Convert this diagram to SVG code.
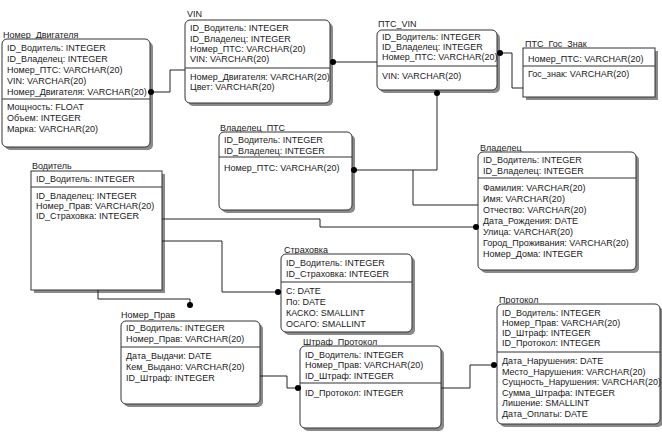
<svg xmlns="http://www.w3.org/2000/svg" width="662" height="433" viewBox="0 0 662 433">
<style>
text{font-family:"Liberation Sans",Arial,sans-serif;font-size:9px;fill:#1a1a1a}
.box{fill:#fff;stroke:#333;stroke-width:1}
.sh{fill:#8a8a8a}
.div{stroke:#333;stroke-width:1}
.ln{fill:none;stroke:#222;stroke-width:1}
.dot{fill:#000}
</style>
<rect width="662" height="433" fill="#fff"/>
<g id="Номер_Двигателя">
<text x="3" y="38">Номер_Двигателя</text>
<rect class="sh" x="5" y="42" width="148" height="108" rx="5"/>
<rect class="box" x="2" y="39" width="148" height="108" rx="5"/>
<line class="div" x1="2" y1="99" x2="150" y2="99"/>
<text x="7" y="51">ID_Водитель: INTEGER</text>
<text x="7" y="62">ID_Владелец: INTEGER</text>
<text x="7" y="73">Номер_ПТС: VARCHAR(20)</text>
<text x="7" y="84">VIN: VARCHAR(20)</text>
<text x="7" y="95">Номер_Двигателя: VARCHAR(20)</text>
<text x="7" y="110">Мощность: FLOAT</text>
<text x="7" y="121">Объем: INTEGER</text>
<text x="7" y="132">Марка: VARCHAR(20)</text>
</g>
<g id="VIN">
<text x="187" y="17">VIN</text>
<rect class="sh" x="188" y="23" width="145" height="83" rx="5"/>
<rect class="box" x="185" y="20" width="145" height="83" rx="5"/>
<line class="div" x1="185" y1="68" x2="330" y2="68"/>
<text x="190" y="31">ID_Водитель: INTEGER</text>
<text x="190" y="42">ID_Владелец: INTEGER</text>
<text x="190" y="52">Номер_ПТС: VARCHAR(20)</text>
<text x="190" y="62">VIN: VARCHAR(20)</text>
<text x="190" y="80">Номер_Двигателя: VARCHAR(20)</text>
<text x="190" y="90">Цвет: VARCHAR(20)</text>
</g>
<g id="ПТС_VIN">
<text x="378" y="27">ПТС_VIN</text>
<rect class="sh" x="380" y="33" width="120" height="60" rx="5"/>
<rect class="box" x="377" y="30" width="120" height="60" rx="5"/>
<line class="div" x1="377" y1="66" x2="497" y2="66"/>
<text x="382" y="40">ID_Водитель: INTEGER</text>
<text x="382" y="50">ID_Владелец: INTEGER</text>
<text x="382" y="60">Номер_ПТС: VARCHAR(20)</text>
<text x="382" y="79">VIN: VARCHAR(20)</text>
</g>
<g id="ПТС_Гос_Знак">
<text x="525" y="47">ПТС_Гос_Знак</text>
<rect class="sh" x="526" y="51" width="132" height="49"/>
<rect class="box" x="523" y="48" width="132" height="49"/>
<line class="div" x1="523" y1="66" x2="655" y2="66"/>
<text x="528" y="62">Номер_ПТС: VARCHAR(20)</text>
<text x="528" y="77">Гос_знак: VARCHAR(20)</text>
</g>
<g id="Владелец_ПТС">
<text x="220" y="131">Владелец_ПТС</text>
<rect class="sh" x="222" y="135" width="133" height="78" rx="5"/>
<rect class="box" x="219" y="132" width="133" height="78" rx="5"/>
<line class="div" x1="219" y1="157" x2="352" y2="157"/>
<text x="224" y="143">ID_Водитель: INTEGER</text>
<text x="224" y="154">ID_Владелец: INTEGER</text>
<text x="224" y="171">Номер_ПТС: VARCHAR(20)</text>
</g>
<g id="Владелец">
<text x="480" y="151">Владелец</text>
<rect class="sh" x="481" y="155" width="158" height="118" rx="5"/>
<rect class="box" x="478" y="152" width="158" height="118" rx="5"/>
<line class="div" x1="478" y1="178" x2="636" y2="178"/>
<text x="483" y="163">ID_Водитель: INTEGER</text>
<text x="483" y="174">ID_Владелец: INTEGER</text>
<text x="483" y="191">Фамилия: VARCHAR(20)</text>
<text x="483" y="202">Имя: VARCHAR(20)</text>
<text x="483" y="213">Отчество: VARCHAR(20)</text>
<text x="483" y="224">Дата_Рождения: DATE</text>
<text x="483" y="235">Улица: VARCHAR(20)</text>
<text x="483" y="246">Город_Проживания: VARCHAR(20)</text>
<text x="483" y="257">Номер_Дома: INTEGER</text>
</g>
<g id="Водитель">
<text x="32" y="169">Водитель</text>
<rect class="sh" x="34" y="174" width="131" height="119"/>
<rect class="box" x="31" y="171" width="131" height="119"/>
<line class="div" x1="31" y1="187" x2="162" y2="187"/>
<text x="36" y="182">ID_Водитель: INTEGER</text>
<text x="36" y="199">ID_Владелец: INTEGER</text>
<text x="36" y="209">Номер_Прав: VARCHAR(20)</text>
<text x="36" y="219">ID_Страховка: INTEGER</text>
</g>
<g id="Страховка">
<text x="284" y="253">Страховка</text>
<rect class="sh" x="284" y="257" width="131" height="78" rx="5"/>
<rect class="box" x="281" y="254" width="131" height="78" rx="5"/>
<line class="div" x1="281" y1="282" x2="412" y2="282"/>
<text x="286" y="266">ID_Водитель: INTEGER</text>
<text x="286" y="277">ID_Страховка: INTEGER</text>
<text x="286" y="294">С: DATE</text>
<text x="286" y="305">По: DATE</text>
<text x="286" y="316">КАСКО: SMALLINT</text>
<text x="286" y="327">ОСАГО: SMALLINT</text>
</g>
<g id="Номер_Прав">
<text x="121" y="318">Номер_Прав</text>
<rect class="sh" x="124" y="324" width="139" height="83" rx="5"/>
<rect class="box" x="121" y="321" width="139" height="83" rx="5"/>
<line class="div" x1="121" y1="347" x2="260" y2="347"/>
<text x="126" y="331">ID_Водитель: INTEGER</text>
<text x="126" y="342">Номер_Прав: VARCHAR(20)</text>
<text x="126" y="359">Дата_Выдачи: DATE</text>
<text x="126" y="370">Кем_Выдано: VARCHAR(20)</text>
<text x="126" y="381">ID_Штраф: INTEGER</text>
</g>
<g id="Штраф_Протокол">
<text x="303" y="345">Штраф_Протокол</text>
<rect class="sh" x="303" y="349" width="141" height="82" rx="5"/>
<rect class="box" x="300" y="346" width="141" height="82" rx="5"/>
<line class="div" x1="300" y1="383" x2="441" y2="383"/>
<text x="305" y="358">ID_Водитель: INTEGER</text>
<text x="305" y="368">Номер_Прав: VARCHAR(20)</text>
<text x="305" y="379">ID_Штраф: INTEGER</text>
<text x="305" y="396">ID_Протокол: INTEGER</text>
</g>
<g id="Протокол">
<text x="499" y="303">Протокол</text>
<rect class="sh" x="500" y="307" width="163" height="120" rx="5"/>
<rect class="box" x="497" y="304" width="163" height="120" rx="5"/>
<line class="div" x1="497" y1="352" x2="660" y2="352"/>
<text x="502" y="316">ID_Водитель: INTEGER</text>
<text x="502" y="326">Номер_Прав: VARCHAR(20)</text>
<text x="502" y="336">ID_Штраф: INTEGER</text>
<text x="502" y="346">ID_Протокол: INTEGER</text>
<text x="502" y="364">Дата_Нарушения: DATE</text>
<text x="502" y="375">Место_Нарушения: VARCHAR(20)</text>
<text x="502" y="385">Сущность_Нарушения: VARCHAR(20)</text>
<text x="502" y="396">Сумма_Штрафа: INTEGER</text>
<text x="502" y="406">Лишение: SMALLINT</text>
<text x="502" y="417">Дата_Оплаты: DATE</text>
</g>
<g id="connectors">
<path class="ln" d="M150,92 H170 V70 H185"/>
<circle class="dot" cx="151" cy="92" r="3"/>
<path class="ln" d="M331,62 H377"/>
<circle class="dot" cx="333" cy="62" r="3"/>
<path class="ln" d="M498,53 H512 V88 H523"/>
<circle class="dot" cx="500" cy="53" r="3"/>
<path class="ln" d="M437,92 V170 H352"/>
<circle class="dot" cx="437" cy="93" r="3"/>
<path class="ln" d="M413,170 V205 H478"/>
<circle class="dot" cx="354" cy="170" r="3"/>
<path class="ln" d="M162,219 H320 V227 H478"/>
<circle class="dot" cx="476" cy="227" r="3"/>
<path class="ln" d="M162,241 H222 V292 H281"/>
<circle class="dot" cx="278" cy="292" r="3"/>
<path class="ln" d="M98,290 V299 H190 V305"/>
<circle class="dot" cx="190" cy="305" r="3"/>
<path class="ln" d="M260,376 H287 V388 H300"/>
<circle class="dot" cx="298" cy="388" r="3"/>
<path class="ln" d="M441,388 H470 V365 H497"/>
<circle class="dot" cx="494" cy="365" r="3"/>
</g>
</svg>
